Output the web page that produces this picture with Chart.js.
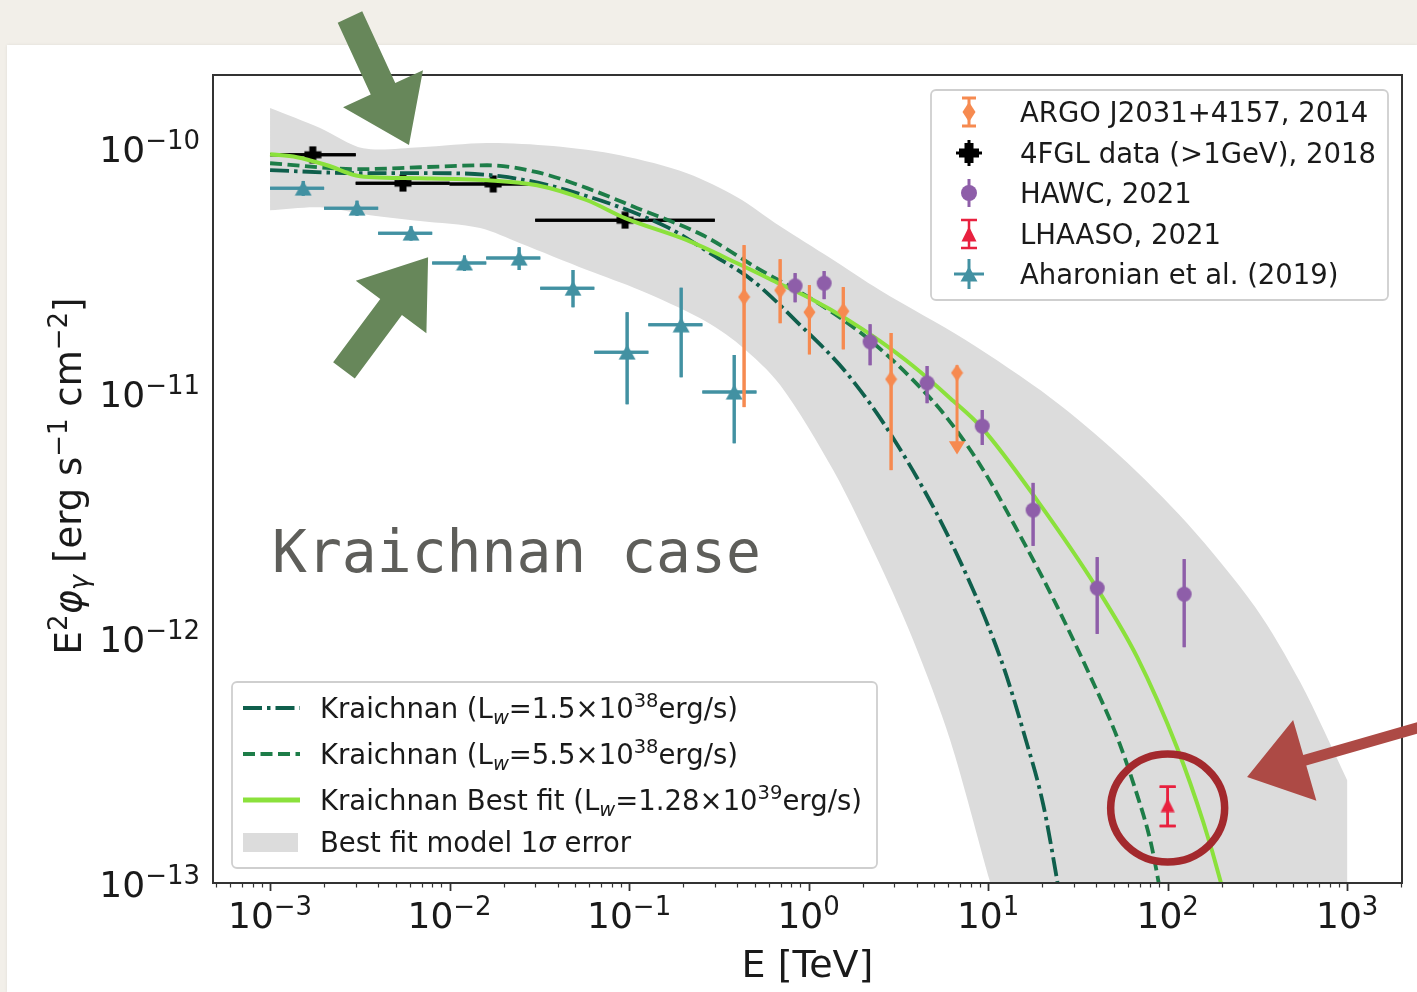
<!DOCTYPE html>
<html>
<head>
<meta charset="utf-8">
<script src="https://cdn.jsdelivr.net/npm/chart.js@4.4.0/dist/chart.umd.min.js"></script>
<style>
  html, body { margin: 0; padding: 0; }
  body { width: 1417px; height: 992px; background: #f2efe9; position: relative; overflow: hidden; }
  #panel { position: absolute; left: 7px; top: 45px; right: 0; bottom: 0; background: #fff; box-shadow: 0 0 3px rgba(0,0,0,0.08); }
  #c { position: absolute; left: 0; top: 0; }
</style>
</head>
<body>
<div id="panel"></div>
<canvas id="c" width="1417" height="992"></canvas>
<script>
// axis ranges (E in TeV, flux in erg s^-1 cm^-2)
const X_MIN = 4.81e-4, X_MAX = 2.02e3;
const Y_MIN = 1e-13, Y_MAX = 1.99e-10;

// ARGO J2031+4157, 2014
const argoE   = [0.437, 0.694, 1.01, 1.56, 2.88, 6.71];
const argoF   = [2.47e-11, 2.63e-11, 2.14e-11, 2.16e-11, 1.14e-11, 1.21e-11];
const argoFlo = [8.77e-12, 1.93e-11, 1.44e-11, 1.51e-11, 4.85e-12, 5.85e-12];
const argoFhi = [4.02e-11, 3.52e-11, 2.76e-11, 2.71e-11, 1.76e-11, 1.30e-11];
const argoLowArrow = [false, false, false, false, false, true];

// 4FGL data (>1GeV), 2018
const fglE   = [1.73e-3, 5.5e-3, 1.75e-2, 9.5e-2];
const fglF   = [9.4e-11, 7.2e-11, 7.15e-11, 5.08e-11];
const fglElo = [1.0e-3, 3.0e-3, 1.0e-2, 3.0e-2];
const fglEhi = [3.0e-3, 1.0e-2, 3.0e-2, 3.0e-1];
const fglFlo = [8.9e-11, 6.8e-11, 6.75e-11, 4.75e-11];
const fglFhi = [9.8e-11, 7.5e-11, 7.45e-11, 5.4e-11];

// HAWC, 2021
const hawcE   = [0.841, 1.22, 2.20, 4.57, 9.27, 17.8, 40.5, 123.6];
const hawcF   = [2.74e-11, 2.81e-11, 1.62e-11, 1.10e-11, 7.33e-12, 3.33e-12, 1.60e-12, 1.51e-12];
const hawcFlo = [2.35e-11, 2.42e-11, 1.30e-11, 9.10e-12, 6.14e-12, 2.38e-12, 1.04e-12, 9.18e-13];
const hawcFhi = [3.09e-11, 3.15e-11, 1.91e-11, 1.29e-11, 8.53e-12, 4.30e-12, 2.14e-12, 2.10e-12];

// LHAASO, 2021
const lhaasoE   = [100];
const lhaasoF   = [2.08e-13];
const lhaasoFlo = [1.71e-13];
const lhaasoFhi = [2.47e-13];

// Aharonian et al. (2019)
const ahE   = [1.53e-3, 3.05e-3, 6.1e-3, 1.21e-2, 2.44e-2, 4.87e-2, 9.75e-2, 0.195, 0.385];
const ahElo = [1.0e-3, 2.0e-3, 4.0e-3, 8.0e-3, 1.6e-2, 3.2e-2, 6.4e-2, 0.128, 0.256];
const ahEhi = [2.0e-3, 4.0e-3, 8.0e-3, 1.6e-2, 3.2e-2, 6.4e-2, 0.128, 0.256, 0.512];
const ahF   = [6.87e-11, 5.69e-11, 4.50e-11, 3.40e-11, 3.56e-11, 2.68e-11, 1.47e-11, 1.90e-11, 1.01e-11];
const ahFlo = [6.4e-11, 5.3e-11, 4.2e-11, 3.15e-11, 3.18e-11, 2.24e-11, 9.0e-12, 1.16e-11, 6.25e-12];
const ahFhi = [7.35e-11, 6.1e-11, 4.8e-11, 3.65e-11, 3.94e-11, 3.18e-11, 2.14e-11, 2.69e-11, 1.43e-11];

// model curves
const lowLwE = [1.0e-3, 3.17e-3, 8.09e-3, 1.91e-2, 4.51e-2, 0.163, 0.294, 0.491, 0.863, 1.64, 2.96, 6.14, 11.7, 16.1, 20.3, 24.2, 26.9];
const lowLwF = [8.13e-11, 7.91e-11, 7.91e-11, 7.69e-11, 6.74e-11, 4.76e-11, 3.66e-11, 2.87e-11, 1.95e-11, 1.20e-11, 6.55e-12, 2.51e-12, 8.29e-13, 3.91e-13, 2.08e-13, 1.03e-13, 6.4e-14];

const midLwE = [1.0e-3, 3.17e-3, 6.85e-3, 1.62e-2, 3.07e-2, 5.83e-2, 0.111, 0.258, 0.517, 1.06, 2.12, 3.82, 5.91, 9.26, 14.5, 22.2, 37.0, 53.0, 68.5, 79.9, 88.5, 98.1];
const midLwF = [8.68e-11, 8.21e-11, 8.36e-11, 8.52e-11, 7.98e-11, 6.87e-11, 5.69e-11, 4.41e-11, 3.24e-11, 2.40e-11, 1.68e-11, 1.13e-11, 7.91e-12, 4.94e-12, 2.76e-12, 1.53e-12, 7.0e-13, 3.84e-13, 2.22e-13, 1.50e-13, 1.03e-13, 6.4e-14];

const fitE = [1.0e-3, 1.41e-3, 2.08e-3, 3.17e-3, 6.85e-3, 1.62e-2, 3.07e-2, 5.83e-2, 9.50e-2, 0.210, 0.400, 0.694, 1.06, 1.64, 2.50, 3.82, 6.14, 9.26, 18.7, 41.0, 67.6, 113, 158, 196, 229];
const fitF = [9.45e-11, 9.19e-11, 8.52e-11, 7.69e-11, 7.54e-11, 7.40e-11, 7.06e-11, 6.13e-11, 5.18e-11, 4.21e-11, 3.39e-11, 2.79e-11, 2.40e-11, 2.00e-11, 1.63e-11, 1.29e-11, 9.54e-12, 7.20e-12, 3.66e-12, 1.57e-12, 8.36e-13, 3.56e-13, 1.77e-13, 1.03e-13, 6.4e-14];

// 1 sigma band of the best fit
const bandUpE = [1.0e-3, 1.90e-3, 3.30e-3, 6.85e-3, 1.62e-2, 3.77e-2, 8.91e-2, 0.210, 0.400, 0.694, 1.32, 2.50, 7.45, 22.4, 53.7, 128, 307, 547, 1000];
const bandUpF = [1.46e-10, 1.21e-10, 1.0e-10, 1.01e-10, 1.05e-10, 1.02e-10, 9.36e-11, 7.91e-11, 6.31e-11, 4.80e-11, 3.56e-11, 2.63e-11, 1.65e-11, 9.54e-12, 5.58e-12, 2.95e-12, 1.34e-12, 6.61e-13, 2.63e-13];
const bandCornerE = [1000];
const bandCornerF = [9.0e-14];
const bandLoE = [1.0e-3, 1.90e-3, 3.61e-3, 6.85e-3, 1.48e-2, 2.47e-2, 5.83e-2, 0.115, 0.249, 0.415, 0.694, 1.37, 2.50, 3.82, 6.14, 10.3, 10.9];
const bandLoF = [5.58e-11, 5.74e-11, 5.33e-11, 5.04e-11, 4.72e-11, 4.09e-11, 3.18e-11, 2.63e-11, 2.02e-11, 1.57e-11, 1.08e-11, 4.85e-12, 1.99e-12, 9.81e-13, 3.84e-13, 1.0e-13, 9.0e-14];

const decadesX = [-3, -2, -1, 0, 1, 2, 3];
const decadesY = [-13, -12, -11, -10];

const dataLegend = ['ARGO J2031+4157, 2014', '4FGL data (>1GeV), 2018', 'HAWC, 2021', 'LHAASO, 2021', 'Aharonian et al. (2019)'];
const modelLw = [['1.5', '38'], ['5.5', '38'], ['1.28', '39']];

const C_ARGO = '#f68a50', C_FGL = '#000000', C_HAWC = '#8e5ea9', C_LHAASO = '#e8213f', C_AH = '#4291a2';
const C_LOW = '#0f5f4c', C_MID = '#1d7d48', C_FIT = '#8be13c', C_BAND = '#dcdcdc';

const SANS = '"DejaVu Sans", sans-serif';

function font(size, italic, fam) { return (italic ? 'italic ' : '') + size + 'px ' + (fam || SANS); }

// draw a run of text pieces (sup / sub via dy)
function drawRuns(ctx, x, y, runs, align, base) {
  let w = 0;
  runs.forEach(r => { ctx.font = font(r.s || base, r.it); w += ctx.measureText(r.t).width; });
  let cx = align === 'center' ? x - w / 2 : (align === 'right' ? x - w : x);
  ctx.textAlign = 'left';
  ctx.textBaseline = 'alphabetic';
  runs.forEach(r => {
    ctx.font = font(r.s || base, r.it);
    ctx.fillText(r.t, cx, y + (r.dy || 0));
    cx += ctx.measureText(r.t).width;
  });
}

// marker shapes
function shapeDiamond(ctx, x, y, w, h, col) {
  ctx.fillStyle = col; ctx.beginPath();
  ctx.moveTo(x, y - h / 2); ctx.lineTo(x + w / 2, y); ctx.lineTo(x, y + h / 2); ctx.lineTo(x - w / 2, y);
  ctx.closePath(); ctx.fill();
}
function shapePlus(ctx, x, y, s, t, col) {
  ctx.fillStyle = col;
  ctx.fillRect(x - s / 2, y - t / 2, s, t);
  ctx.fillRect(x - t / 2, y - s / 2, t, s);
}
function shapeCircle(ctx, x, y, r, col) {
  ctx.fillStyle = col; ctx.beginPath(); ctx.arc(x, y, r, 0, Math.PI * 2); ctx.fill();
}
function shapeTri(ctx, x, y, w, h, col, down) {
  const s = down ? -1 : 1;
  ctx.fillStyle = col; ctx.beginPath();
  ctx.moveTo(x, y - s * h / 2); ctx.lineTo(x + w / 2, y + s * h / 2); ctx.lineTo(x - w / 2, y + s * h / 2);
  ctx.closePath(); ctx.fill();
}
function markerImg(w, h, fn) {
  const c = document.createElement('canvas');
  c.width = w; c.height = h;
  fn(c.getContext('2d'), w / 2, h / 2);
  return c;
}
const imgDiamond = markerImg(13, 18, (g, x, y) => shapeDiamond(g, x, y, 12, 17, C_ARGO));
const imgPlus    = markerImg(18, 18, (g, x, y) => shapePlus(g, x, y, 17, 7, C_FGL));
const imgCircle  = markerImg(17, 17, (g, x, y) => shapeCircle(g, x, y, 7.5, C_HAWC));
const imgTriAh   = markerImg(18, 16, (g, x, y) => shapeTri(g, x, y, 17, 15, C_AH));
const imgTriLh   = markerImg(16, 15, (g, x, y) => shapeTri(g, x, y, 14, 14, C_LHAASO));

const pts = (xs, ys) => xs.map((v, i) => ({ x: v, y: ys[i] }));
// repeat the end points so the smoothed outline keeps sharp corners there
const sharpEnds = arr => [arr[0]].concat(arr, [arr[arr.length - 1]]);

const bandShape = sharpEnds(pts(bandUpE, bandUpF))
  .concat(sharpEnds(pts(bandCornerE, bandCornerF)))
  .concat(sharpEnds(pts(bandLoE, bandLoF).reverse()));

const datasets = [
  { label: 'band', data: bandShape, showLine: true, fill: 'shape', backgroundColor: C_BAND, tension: 0.3,
    borderColor: 'rgba(0,0,0,0)', borderWidth: 0, pointRadius: 0, order: 20 },
  { label: dataLegend[1], data: pts(fglE, fglF), pointStyle: imgPlus, pointRadius: 6, order: 15,
    err: { xlo: fglElo, xhi: fglEhi, ylo: fglFlo, yhi: fglFhi, color: C_FGL, width: 3 } },
  { label: dataLegend[4], data: pts(ahE, ahF), pointStyle: imgTriAh, pointRadius: 6, order: 14,
    err: { xlo: ahElo, xhi: ahEhi, ylo: ahFlo, yhi: ahFhi, color: C_AH, width: 3 } },
  { label: 'low', data: pts(lowLwE, lowLwF), showLine: true, borderColor: C_LOW, borderWidth: 3.8,
    borderDash: [19, 5, 3.5, 5], pointRadius: 0, cubicInterpolationMode: 'monotone', order: 12 },
  { label: 'mid', data: pts(midLwE, midLwF), showLine: true, borderColor: C_MID, borderWidth: 3.8,
    borderDash: [12, 5.5], pointRadius: 0, cubicInterpolationMode: 'monotone', order: 11 },
  { label: 'fit', data: pts(fitE, fitF), showLine: true, borderColor: C_FIT, borderWidth: 4,
    pointRadius: 0, cubicInterpolationMode: 'monotone', order: 10 },
  { label: dataLegend[0], data: pts(argoE, argoF), pointStyle: imgDiamond, pointRadius: 6, order: 5,
    err: { ylo: argoFlo, yhi: argoFhi, color: C_ARGO, width: 3, lowArrow: argoLowArrow } },
  { label: dataLegend[2], data: pts(hawcE, hawcF), pointStyle: imgCircle, pointRadius: 6, order: 4,
    err: { ylo: hawcFlo, yhi: hawcFhi, color: C_HAWC, width: 3 } },
  { label: dataLegend[3], data: pts(lhaasoE, lhaasoF), pointStyle: imgTriLh, pointRadius: 6, order: 3,
    err: { ylo: lhaasoFlo, yhi: lhaasoFhi, color: C_LHAASO, width: 2.5, cap: 16 } }
];

// error bars under each data set
const errorBars = {
  id: 'errorBars',
  beforeDatasetDraw(chart, args) {
    const ds = chart.data.datasets[args.index];
    if (!ds.err) return;
    const e = ds.err, xs = chart.scales.x, ys = chart.scales.y, ctx = chart.ctx;
    ctx.save();
    ctx.strokeStyle = e.color; ctx.lineWidth = e.width; ctx.lineCap = 'butt';
    ds.data.forEach((p, i) => {
      const px = xs.getPixelForValue(p.x), py = ys.getPixelForValue(p.y);
      ctx.beginPath();
      if (e.xlo) {
        ctx.moveTo(xs.getPixelForValue(e.xlo[i]), py);
        ctx.lineTo(xs.getPixelForValue(e.xhi[i]), py);
      }
      if (e.ylo) {
        const y1 = ys.getPixelForValue(e.ylo[i]), y2 = ys.getPixelForValue(e.yhi[i]);
        ctx.moveTo(px, y1); ctx.lineTo(px, y2);
        if (e.cap) {
          ctx.moveTo(px - e.cap / 2, y1); ctx.lineTo(px + e.cap / 2, y1);
          ctx.moveTo(px - e.cap / 2, y2); ctx.lineTo(px + e.cap / 2, y2);
        }
        ctx.stroke();
        if (e.lowArrow && e.lowArrow[i]) shapeTri(ctx, px, y1 - 3, 11, 9, e.color, true);
      }
      ctx.stroke();
    });
    ctx.restore();
  }
};

function expText(n) { return n < 0 ? '\u2212' + (-n) : String(n); }

// frame, ticks, labels, legends
const decor = {
  id: 'decor',
  afterDatasetsDraw(chart) {
    const { ctx, chartArea: a, scales: { x, y } } = chart;
    ctx.save();
    ctx.strokeStyle = '#333'; ctx.lineWidth = 2;
    ctx.strokeRect(a.left, a.top, a.right - a.left, a.bottom - a.top);

    // minor + major ticks
    for (let d = -4; d <= 3; d++) {
      for (let k = 1; k <= 9; k++) {
        const v = k * Math.pow(10, d);
        if (v >= X_MIN && v <= X_MAX) {
          const px = Math.round(x.getPixelForValue(v)) + 0.5;
          ctx.lineWidth = k === 1 ? 1.8 : 1.2;
          ctx.beginPath(); ctx.moveTo(px, a.bottom); ctx.lineTo(px, a.bottom + (k === 1 ? 8 : 4.5)); ctx.stroke();
        }
        if (v >= Y_MIN && v <= Y_MAX) {
          const py = Math.round(y.getPixelForValue(v)) + 0.5;
          ctx.lineWidth = k === 1 ? 1.8 : 1.2;
          ctx.beginPath(); ctx.moveTo(a.left, py); ctx.lineTo(a.left - (k === 1 ? 8 : 4.5), py); ctx.stroke();
        }
      }
    }

    ctx.fillStyle = '#1a1a1a';
    decadesX.forEach(d => {
      const px = x.getPixelForValue(Math.pow(10, d));
      drawRuns(ctx, px, a.bottom + 45, [{ t: '10', s: 36 }, { t: expText(d), s: 26, dy: -13 }], 'center');
    });
    decadesY.forEach(d => {
      const py = y.getPixelForValue(Math.pow(10, d));
      drawRuns(ctx, a.left - 13, py + 14, [{ t: '10', s: 36 }, { t: expText(d), s: 26, dy: -13 }], 'right');
    });

    // axis titles
    drawRuns(ctx, (a.left + a.right) / 2, 977, [{ t: 'E [TeV]', s: 38 }], 'center');
    ctx.save();
    ctx.translate(81, 476);
    ctx.rotate(-Math.PI / 2);
    drawRuns(ctx, 0, 0, [
      { t: 'E', s: 37 }, { t: '2', s: 26, dy: -14 }, { t: '\u03c6', s: 37, it: true }, { t: '\u03b3', s: 26, dy: 7, it: true },
      { t: ' [erg s', s: 37 }, { t: '\u22121', s: 26, dy: -14 }, { t: ' cm', s: 37 }, { t: '\u22122', s: 26, dy: -14 }, { t: ']', s: 37 }
    ], 'center');
    ctx.restore();

    // case label
    ctx.fillStyle = '#5e5e5a';
    ctx.font = font(58, false, '"DejaVu Sans Mono", monospace');
    ctx.textAlign = 'left';
    ctx.fillText('Kraichnan case', a.left + 59, 572);

    // data legend (upper right)
    const L1 = { x: a.right - 471, y: a.top + 15, w: 457, h: 210 };
    legendBox(ctx, L1);
    const rowsY = [112, 153, 193, 234, 274].map(v => v - 90 + L1.y);
    const mx = L1.x + 38, tx = L1.x + 89;
    // ARGO
    vbar(ctx, mx, rowsY[0], 14, C_ARGO, 3, 14);
    shapeDiamond(ctx, mx, rowsY[0], 13, 20, C_ARGO);
    // 4FGL
    vbar(ctx, mx, rowsY[1], 13, C_FGL, 3, 0); hbar(ctx, mx, rowsY[1], 13, C_FGL, 3);
    shapePlus(ctx, mx, rowsY[1], 20, 9, C_FGL);
    // HAWC
    vbar(ctx, mx, rowsY[2], 14, C_HAWC, 3, 0);
    shapeCircle(ctx, mx, rowsY[2], 8, C_HAWC);
    // LHAASO
    vbar(ctx, mx, rowsY[3], 14, C_LHAASO, 2.5, 16);
    shapeTri(ctx, mx, rowsY[3], 15, 15, C_LHAASO);
    // Aharonian
    vbar(ctx, mx, rowsY[4], 15, C_AH, 3, 0); hbar(ctx, mx, rowsY[4], 15, C_AH, 3);
    shapeTri(ctx, mx, rowsY[4], 17, 15, C_AH);
    ctx.fillStyle = '#1a1a1a';
    dataLegend.forEach((s, i) => drawRuns(ctx, tx, rowsY[i] + 10, [{ t: s, s: 27.5 }], 'left'));

    // model legend (lower left)
    const L2 = { x: a.left + 19, y: a.bottom - 201, w: 645, h: 186 };
    legendBox(ctx, L2);
    const r2 = [708, 754, 800, 842].map(v => v - 682 + L2.y);
    const lx0 = L2.x + 11, lx1 = L2.x + 68, t2 = L2.x + 88;
    legendLine(ctx, lx0, lx1, r2[0], C_LOW, 3.8, [19, 5, 3.5, 5]);
    legendLine(ctx, lx0, lx1, r2[1], C_MID, 3.8, [12, 5.5]);
    legendLine(ctx, lx0, lx1, r2[2], C_FIT, 5, []);
    ctx.fillStyle = C_BAND;
    ctx.fillRect(lx0, r2[3] - 9, lx1 - lx0 - 2, 19);
    ctx.fillStyle = '#1a1a1a';
    const prefixes = ['Kraichnan (L', 'Kraichnan (L', 'Kraichnan Best fit (L'];
    modelLw.forEach((m, i) => drawRuns(ctx, t2, r2[i] + 10, [
      { t: prefixes[i] }, { t: 'w', s: 19.5, dy: 6, it: true }, { t: '=' + m[0] + '\u00d710' },
      { t: m[1], s: 19.5, dy: -11 }, { t: 'erg/s)' }
    ], 'left', 27.5));
    drawRuns(ctx, t2, r2[3] + 10, [{ t: 'Best fit model 1' }, { t: '\u03c3', it: true }, { t: ' error' }], 'left', 27.5);
    ctx.restore();
  }
};

function legendBox(ctx, b) {
  ctx.save();
  ctx.fillStyle = 'rgba(255,255,255,0.85)';
  ctx.strokeStyle = '#cfcfcf'; ctx.lineWidth = 1.8;
  ctx.beginPath(); ctx.roundRect(b.x, b.y, b.w, b.h, 5); ctx.fill(); ctx.stroke();
  ctx.restore();
}
function vbar(ctx, x, y, half, col, w, cap) {
  ctx.strokeStyle = col; ctx.lineWidth = w;
  ctx.beginPath(); ctx.moveTo(x, y - half); ctx.lineTo(x, y + half);
  if (cap) {
    ctx.moveTo(x - cap / 2, y - half); ctx.lineTo(x + cap / 2, y - half);
    ctx.moveTo(x - cap / 2, y + half); ctx.lineTo(x + cap / 2, y + half);
  }
  ctx.stroke();
}
function hbar(ctx, x, y, half, col, w) {
  ctx.strokeStyle = col; ctx.lineWidth = w;
  ctx.beginPath(); ctx.moveTo(x - half, y); ctx.lineTo(x + half, y); ctx.stroke();
}
function legendLine(ctx, x0, x1, y, col, w, dash) {
  ctx.save();
  ctx.strokeStyle = col; ctx.lineWidth = w; ctx.setLineDash(dash);
  ctx.beginPath(); ctx.moveTo(x0, y); ctx.lineTo(x1, y); ctx.stroke();
  ctx.restore();
}

// hand-made annotations, anchored in data space
const greenArrows = [
  { tipE: 5.94e-3, tipF: 1.03e-10, dx: 59, dy: 128 },
  { tipE: 7.59e-3, tipF: 3.59e-11, dx: 84, dy: -113 }
];
const redArrow = { tipE: 277, tipF: 2.71e-13, dx: -170, dy: 49 };

function blockArrow(ctx, tx, ty, dx, dy, len, headLen, headHalf, shaftHalf) {
  const n = Math.hypot(dx, dy), ux = dx / n, uy = dy / n, vx = -uy, vy = ux;
  const bx = tx - ux * headLen, by = ty - uy * headLen;
  const sx = tx - ux * len, sy = ty - uy * len;
  ctx.beginPath();
  ctx.moveTo(tx, ty);
  ctx.lineTo(bx + vx * headHalf, by + vy * headHalf);
  ctx.lineTo(bx + vx * shaftHalf, by + vy * shaftHalf);
  ctx.lineTo(sx + vx * shaftHalf, sy + vy * shaftHalf);
  ctx.lineTo(sx - vx * shaftHalf, sy - vy * shaftHalf);
  ctx.lineTo(bx - vx * shaftHalf, by - vy * shaftHalf);
  ctx.lineTo(bx - vx * headHalf, by - vy * headHalf);
  ctx.closePath();
  ctx.fill();
}

const notes = {
  id: 'notes',
  afterDraw(chart) {
    const { ctx, scales: { x, y } } = chart;
    ctx.save();
    ctx.fillStyle = '#67875a';
    greenArrows.forEach(g => blockArrow(ctx, x.getPixelForValue(g.tipE), y.getPixelForValue(g.tipF), g.dx, g.dy, 141, 62, 44, 13.5));
    // red circle around the LHAASO point
    const cx = x.getPixelForValue(lhaasoE[0]), cy = y.getPixelForValue(lhaasoF[0]) + 3;
    ctx.strokeStyle = '#a3292d'; ctx.lineWidth = 7.5;
    ctx.beginPath(); ctx.ellipse(cx, cy, 57, 54, 0, 0, Math.PI * 2); ctx.stroke();
    ctx.fillStyle = '#ad4a45';
    blockArrow(ctx, x.getPixelForValue(redArrow.tipE), y.getPixelForValue(redArrow.tipF), redArrow.dx, redArrow.dy, 200, 60, 42, 5.5);
    ctx.restore();
  }
};

new Chart(document.getElementById('c'), {
  type: 'scatter',
  data: { datasets },
  options: {
    responsive: false,
    animation: false,
    events: [],
    layout: { padding: { top: 75, right: 15, left: 0, bottom: 0 } },
    plugins: { legend: { display: false }, tooltip: { enabled: false } },
    scales: {
      x: { type: 'logarithmic', min: X_MIN, max: X_MAX, bounds: 'data',
           ticks: { display: false }, grid: { display: false }, border: { display: false },
           afterFit: s => { s.height = 109; } },
      y: { type: 'logarithmic', min: Y_MIN, max: Y_MAX, bounds: 'data',
           ticks: { display: false }, grid: { display: false }, border: { display: false },
           afterFit: s => { s.width = 213; } }
    }
  },
  plugins: [errorBars, decor, notes]
});
</script>
</body>
</html>
